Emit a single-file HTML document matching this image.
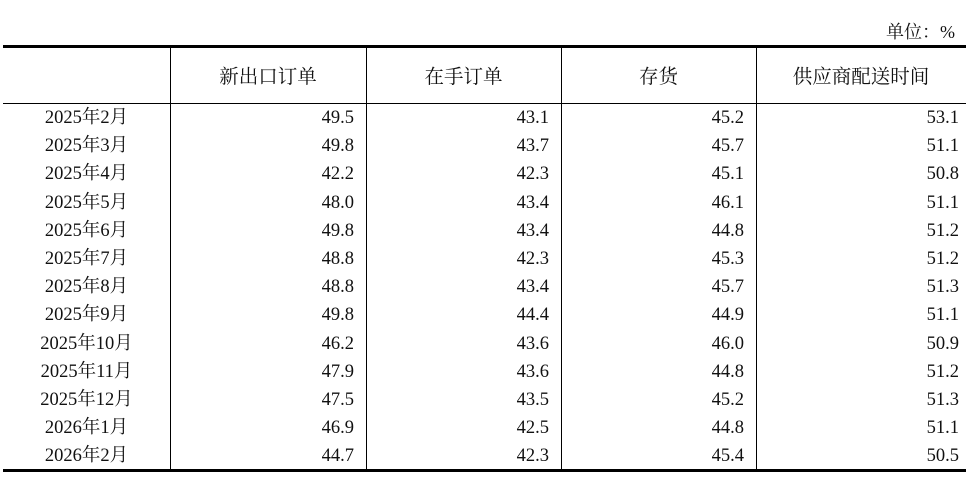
<!DOCTYPE html>
<html><head><meta charset="utf-8"><style>
body{margin:0;width:975px;height:482px;background:#fff;position:relative;overflow:hidden;font-family:"Liberation Serif","Noto Serif CJK SC",serif;color:#111;font-size:18.5px}
.a{position:absolute}
.h{position:absolute;height:0;border-top:1px solid #000}
.v{position:absolute;width:0;border-left:1px solid #000}
.t{position:absolute;line-height:20px;white-space:nowrap}
</style></head><body>
<div class="t" style="left:886px;top:22px;font-family:'Liberation Serif','Noto Serif CJK SC',serif;font-size:18px">单位：%</div>
<div class="a" style="left:3px;top:45px;width:963px;height:3px;background:#000"></div>
<div class="h" style="left:3px;top:103px;width:963px"></div>
<div class="a" style="left:3px;top:469px;width:963px;height:3px;background:#000"></div>
<div class="v" style="left:170px;top:48px;height:421px"></div>
<div class="v" style="left:366px;top:48px;height:421px"></div>
<div class="v" style="left:561px;top:48px;height:421px"></div>
<div class="v" style="left:756px;top:48px;height:421px"></div>
<div class="t" style="left:170px;width:196px;top:65px;text-align:center;font-family:'Noto Serif CJK SC',serif;font-size:19.5px">新出口订单</div>
<div class="t" style="left:366px;width:195px;top:65px;text-align:center;font-family:'Noto Serif CJK SC',serif;font-size:19.5px">在手订单</div>
<div class="t" style="left:561px;width:195px;top:65px;text-align:center;font-family:'Noto Serif CJK SC',serif;font-size:19.5px">存货</div>
<div class="t" style="left:756px;width:210px;top:65px;text-align:center;font-family:'Noto Serif CJK SC',serif;font-size:19.5px">供应商配送时间</div>
<div id="rows"></div>
<script>
var d=[["2025年2月","49.5","43.1","45.2","53.1"],["2025年3月","49.8","43.7","45.7","51.1"],["2025年4月","42.2","42.3","45.1","50.8"],["2025年5月","48.0","43.4","46.1","51.1"],["2025年6月","49.8","43.4","44.8","51.2"],["2025年7月","48.8","42.3","45.3","51.2"],["2025年8月","48.8","43.4","45.7","51.3"],["2025年9月","49.8","44.4","44.9","51.1"],["2025年10月","46.2","43.6","46.0","50.9"],["2025年11月","47.9","43.6","44.8","51.2"],["2025年12月","47.5","43.5","45.2","51.3"],["2026年1月","46.9","42.5","44.8","51.1"],["2026年2月","44.7","42.3","45.4","50.5"]];
var r=[354,549,744,959],h="";
d.forEach(function(x,i){var y=108+i*28.2;
h+='<div class="t" style="left:3px;width:167px;top:'+y+'px;text-align:center">'+x[0]+'</div>';
for(var j=1;j<5;j++)h+='<div class="t" style="left:'+(r[j-1]-80)+'px;width:80px;top:'+y+'px;text-align:right">'+x[j]+'</div>';});
document.getElementById('rows').innerHTML=h;
</script>
</body></html>
